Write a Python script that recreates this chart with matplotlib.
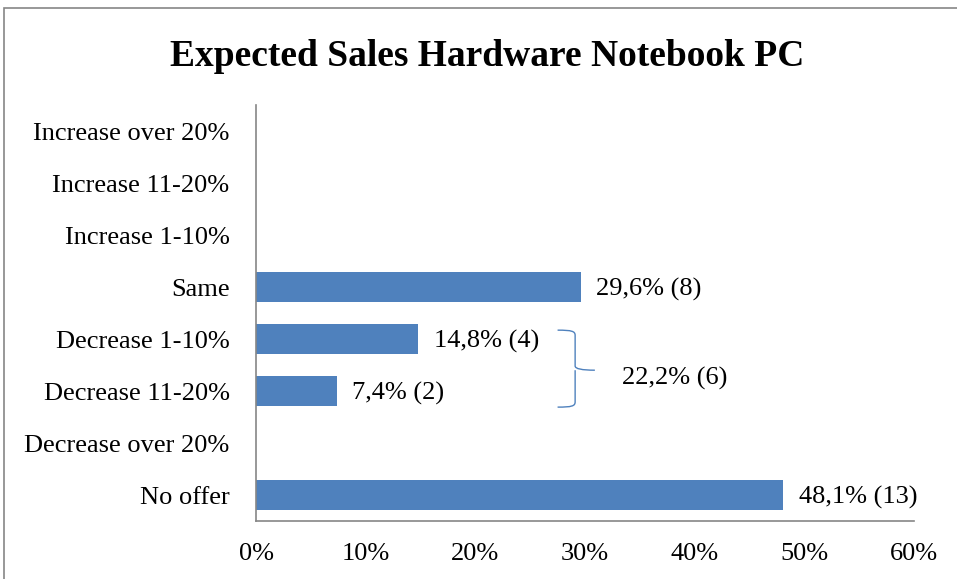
import matplotlib.pyplot as plt
from matplotlib.patches import Rectangle, PathPatch
from matplotlib.path import Path

categories = ["Increase over 20%", "Increase 11-20%", "Increase 1-10%", "Same",
              "Decrease 1-10%", "Decrease 11-20%", "Decrease over 20%", "No offer"]
shares = [0, 0, 0, 29.6, 14.8, 7.4, 0, 48.1]
counts = [0, 0, 0, 8, 4, 2, 0, 13]
ticks = [0, 10, 20, 30, 40, 50, 60]
group_share = 22.2
group_count = 6

plt.rcParams["font.family"] = ["Liberation Serif", "DejaVu Serif"]

fig = plt.figure(figsize=(9.57, 5.79), dpi=100)
ax = fig.add_axes([256 / 957, 1 - 521 / 579, (914 - 256) / 957, (521 - 105) / 579])

y = list(range(len(categories)))
ax.barh(y, shares, height=0.56, color="#4F81BD")
ax.set_ylim(len(categories) - 0.5, -0.5)
ax.set_xlim(0, 60)
ax.set_yticks(y)
ax.set_yticklabels(categories, fontsize=19)
ax.set_xticks(ticks)
ax.set_xticklabels([f"{t}%" for t in ticks], fontsize=19)
ax.tick_params(length=0)
ax.tick_params(axis="x", pad=16)
ax.tick_params(axis="y", pad=19)

for side in ("top", "right"):
    ax.spines[side].set_visible(False)
for side in ("left", "bottom"):
    ax.spines[side].set_color("#868686")
    ax.spines[side].set_linewidth(1.2)

for yi, s, c in zip(y, shares, counts):
    if s > 0:
        ax.annotate(f"{s:.1f}% ({c})".replace(".", ","), (s, yi),
                    xytext=(11, 0), textcoords="offset points",
                    va="center_baseline", ha="left", fontsize=19)

# curly brace spanning the two "Decrease" bars
x0, x1, xt = 27.5, 29.1, 30.9
yt, ym, yb = 3.83, 4.6, 5.31
verts = [(x0, yt), (x1 - 0.3, yt), (x1, yt + 0.02), (x1, yt + 0.1),
         (x1, ym - 0.08), (x1, ym), (xt, ym),
         (x1, ym), (x1, ym + 0.08),
         (x1, yb - 0.1), (x1, yb - 0.02), (x1 - 0.3, yb), (x0, yb)]
codes = [Path.MOVETO, Path.CURVE4, Path.CURVE4, Path.CURVE4,
         Path.LINETO, Path.CURVE3, Path.CURVE3,
         Path.MOVETO, Path.LINETO,
         Path.LINETO, Path.CURVE4, Path.CURVE4, Path.CURVE4]
ax.add_patch(PathPatch(Path(verts, codes), fill=False, edgecolor="#4F81BD",
                       linewidth=1.0, clip_on=False))
ax.text(33.4, 4.7, f"{group_share:.1f}% ({group_count})".replace(".", ","),
        va="center_baseline", ha="left", fontsize=19)

fig.text(487 / 957, 1 - 56 / 579, "Expected Sales Hardware Notebook PC",
         ha="center", va="center", fontsize=27, fontweight="bold")

fig.patches.append(Rectangle((4 / 957, -0.1), 1.2, 1 - 8 / 579 + 0.1,
                             transform=fig.transFigure, fill=False,
                             edgecolor="#868686", linewidth=1.2))

fig.savefig("out.png", dpi=100)
